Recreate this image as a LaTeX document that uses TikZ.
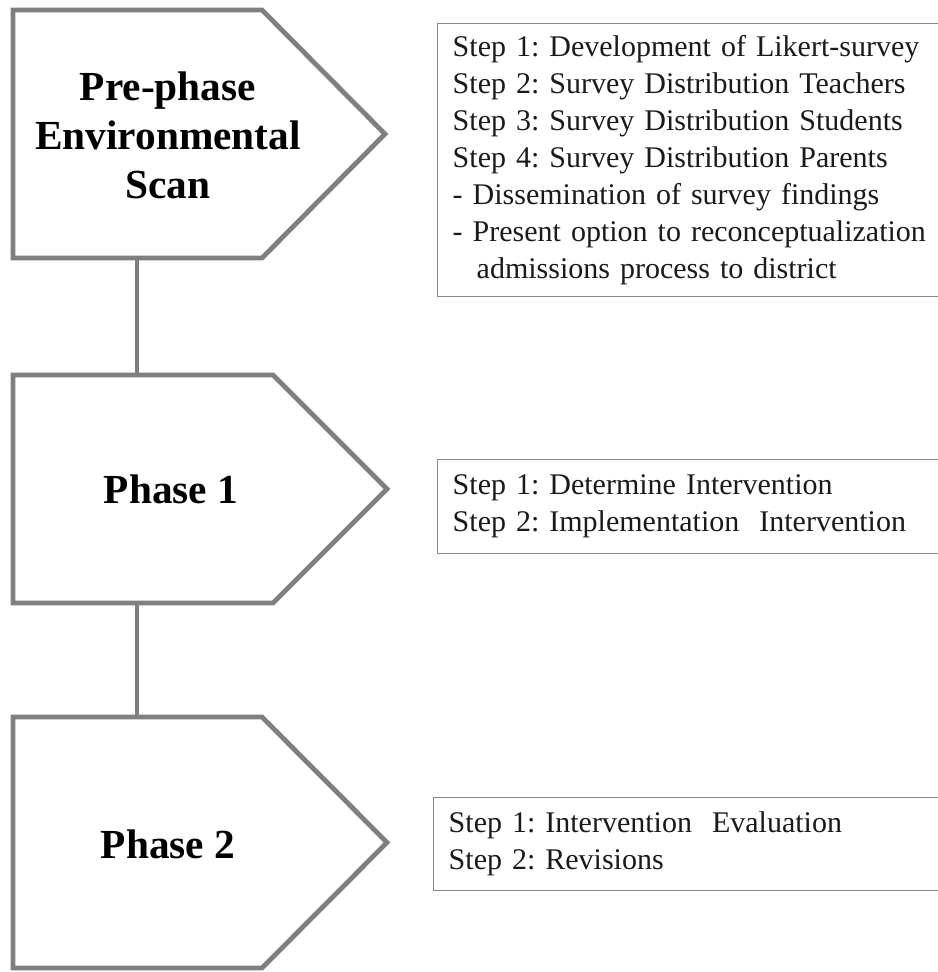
\documentclass[tikz,border=0pt]{standalone}
\usepackage{fontspec}
\setmainfont{Liberation Serif}
\usepackage{xcolor}
\usepackage{tikz}
\definecolor{phEdge}{HTML}{7F7F7F}
\definecolor{phFrame}{HTML}{888888}
\definecolor{phInk}{HTML}{000000}
\definecolor{phText}{HTML}{1A1A1A}
\tikzset{
  ph diagram/.style={x=0.75pt, y=-0.75pt, line join=miter},
  ph shape/.style={draw=phEdge, fill=white, line width=3.6pt},
  ph link/.style={draw=phEdge, line width=3.6pt},
  ph title/.style={font=\bfseries\fontsize{31}{36.75}\selectfont, text=phInk,
    align=center, inner sep=0pt},
  ph steps/.style={draw=phFrame, fill=white, line width=1.1pt, anchor=north west,
    font=\frenchspacing\fontsize{22.5}{27.75}\selectfont, text=phText, align=left,
    inner xsep=11.25pt, inner ysep=0pt, text width=360pt}
}

\begin{document}
\begin{tikzpicture}[ph diagram]
\useasboundingbox (0,0) rectangle (938,972);
% connectors between the phases
\coordinate (pre-s) at (137,258);
\coordinate (p1-n) at (137,375);
\coordinate (p1-s) at (137,603);
\coordinate (p2-n) at (137,717);
\draw[ph link] (pre-s) -- (p1-n);
\draw[ph link] (p1-s) -- (p2-n);
% phase arrows
\draw[ph shape] (13,10) -- (262,10) -- (385,134) -- (262,258) -- (13,258) -- cycle;
\draw[ph shape] (13,375) -- (273,375) -- (387,489) -- (273,603) -- (13,603) -- cycle;
\draw[ph shape] (13,717) -- (262,717) -- (387,842.5) -- (262,968) -- (13,968) -- cycle;
\node[ph title] (pre) at (168,135) {Pre-phase\\Environmental\\Scan};
\node[ph title, anchor=base] (p1) at (171,503) {Phase 1};
\node[ph title, anchor=base] (p2) at (168,858) {Phase 2};
% step lists
\node[ph steps, minimum height=204.75pt] (pre-steps) at (437,23)
  {Step 1: Development of Likert-survey\\
   Step 2: Survey Distribution Teachers\\
   Step 3: Survey Distribution Students\\
   Step 4: Survey Distribution Parents\\
   - Dissemination of survey findings\\
   - Present option to reconceptualization\\
   \hspace*{0.8em}admissions process to district};
\node[ph steps, minimum height=70.5pt] (p1-steps) at (437,459)
  {Step 1: Determine Intervention\\
   Step 2: Implementation\ \ Intervention};
\node[ph steps, minimum height=69.75pt] (p2-steps) at (433,797)
  {Step 1: Intervention\ \ Evaluation\\
   Step 2: Revisions};
\end{tikzpicture}
\end{document}
